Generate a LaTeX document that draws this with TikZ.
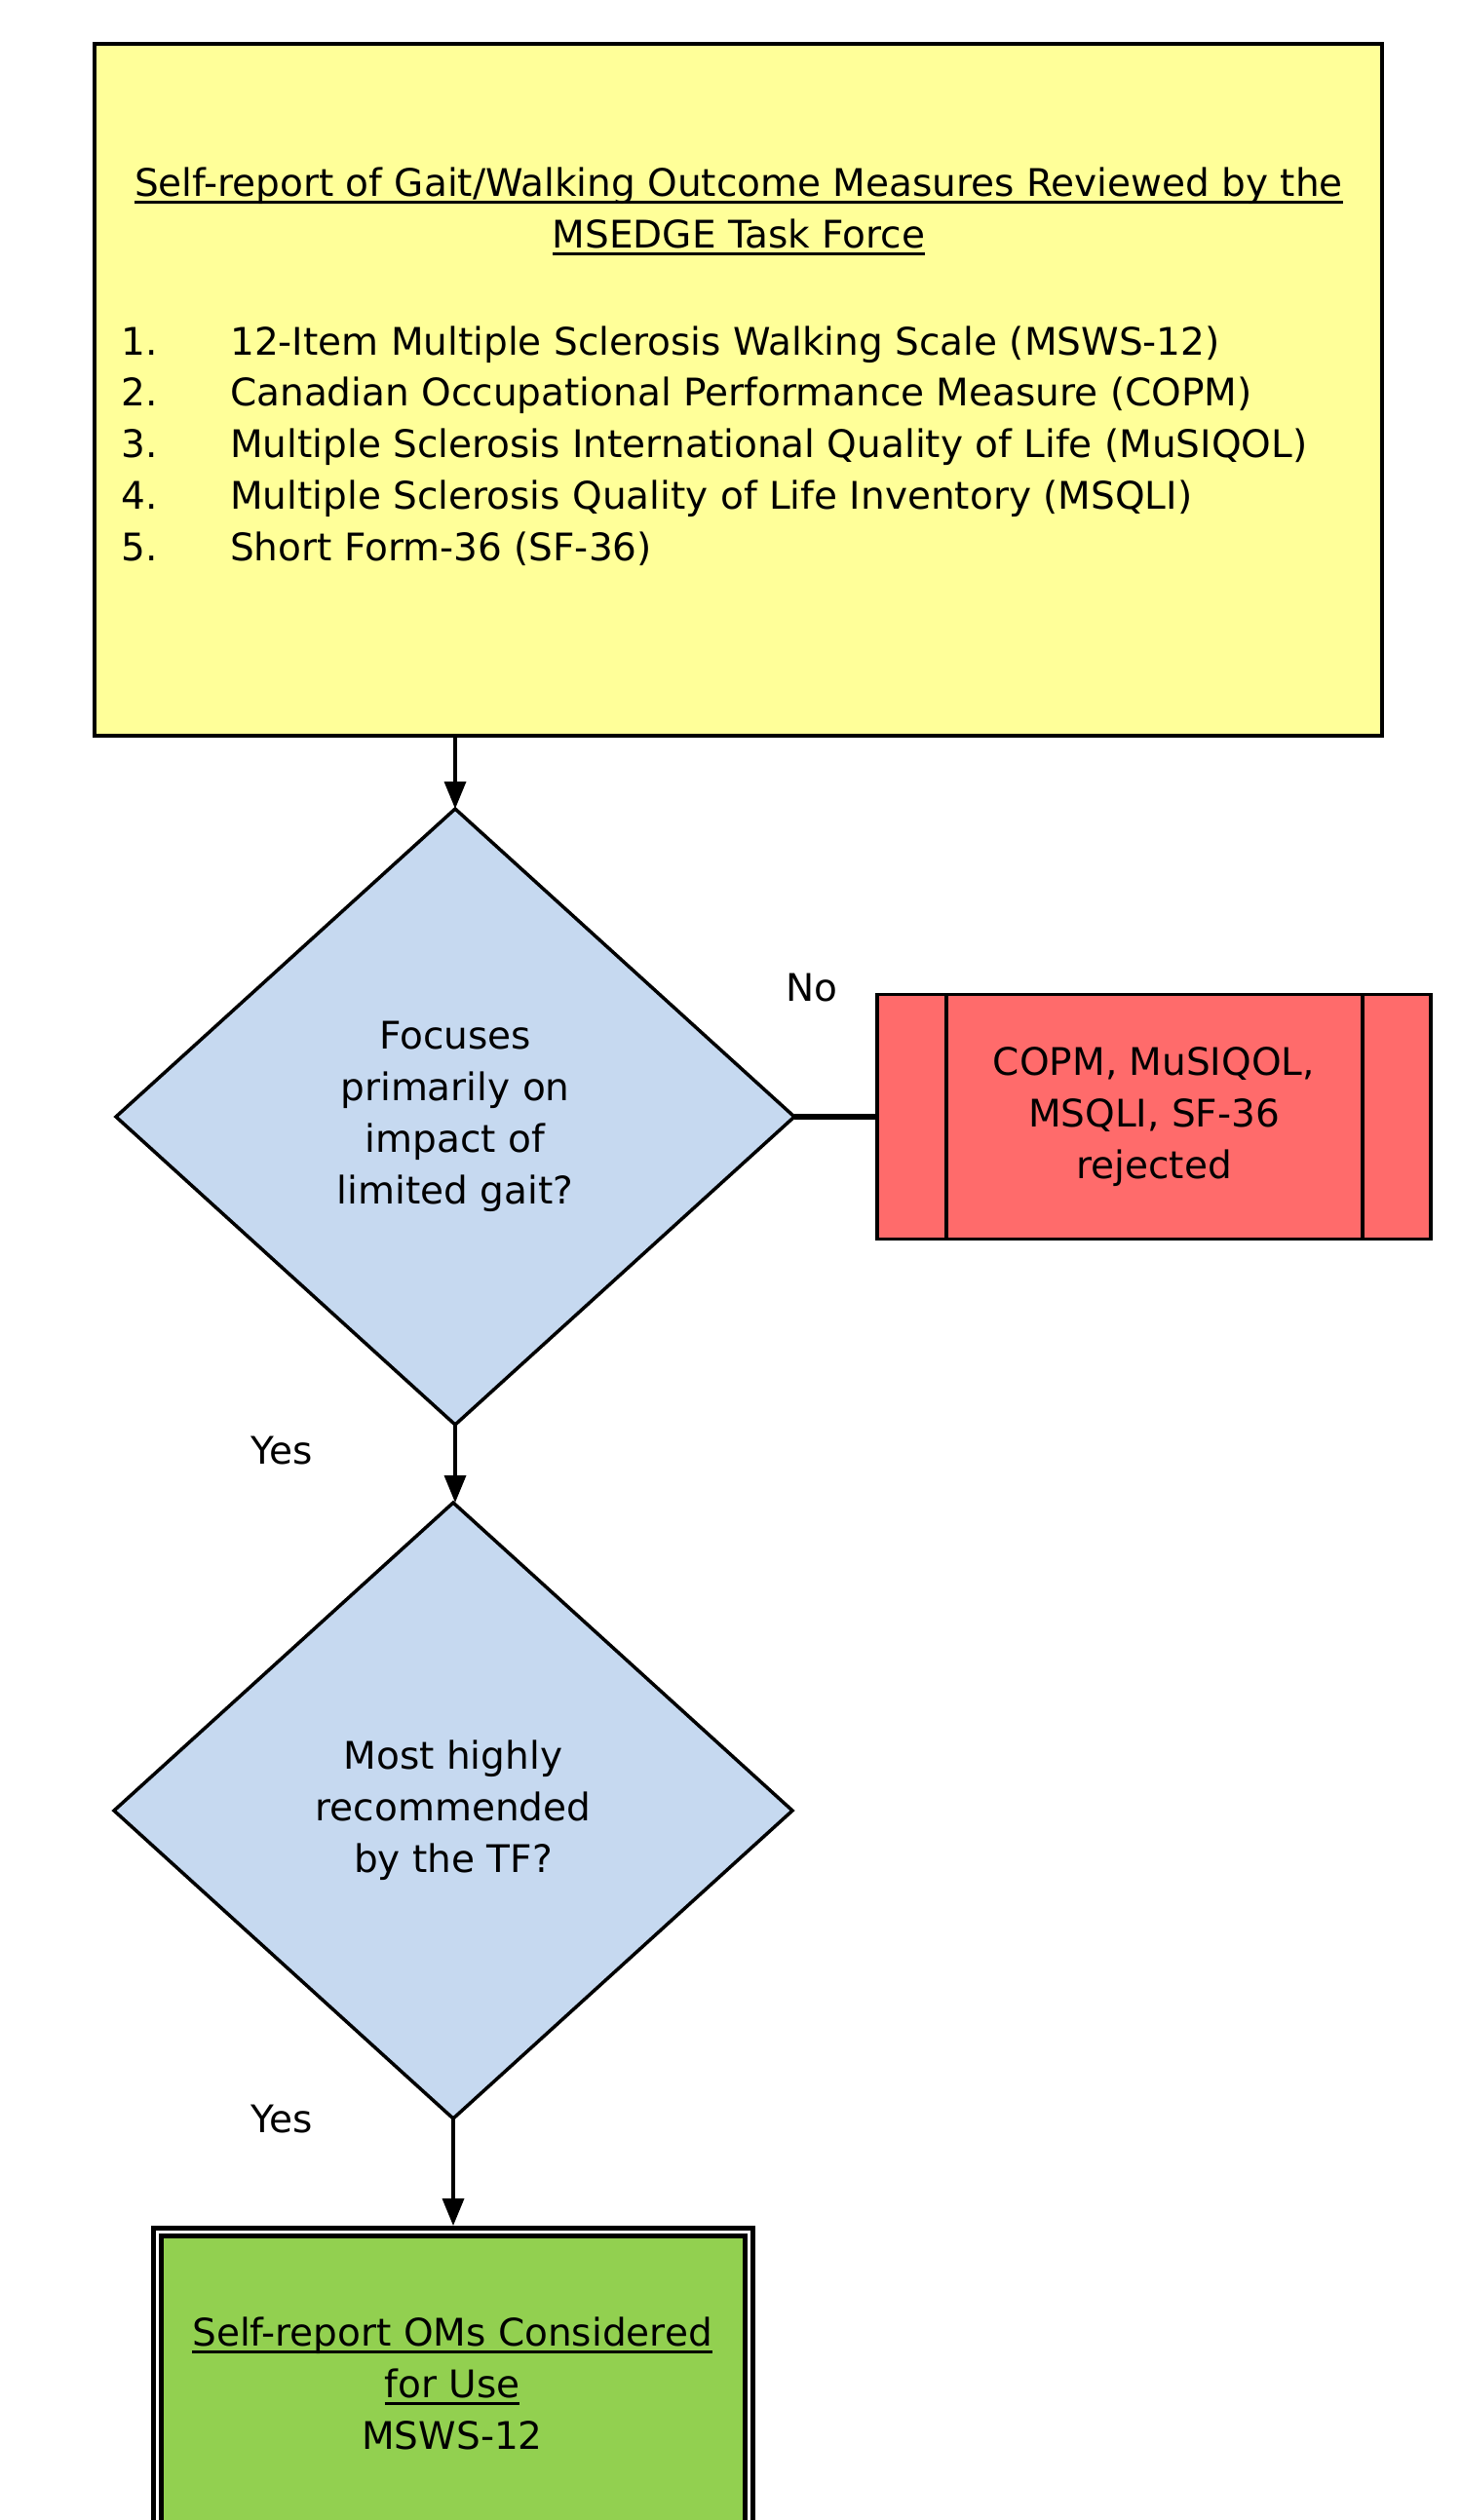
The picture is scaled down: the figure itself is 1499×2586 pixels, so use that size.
\documentclass[tikz,border=0pt]{standalone}
\usepackage{fontspec}
\setmainfont{DejaVu Sans}
\newcommand\myul[1]{\setbox0\hbox{#1}\rlap{\rule[-7pt]{\wd0}{2.5pt}}\box0}
\usetikzlibrary{shapes.geometric,arrows.meta,calc}
\definecolor{boxyellow}{HTML}{FFFF99}
\definecolor{boxblue}{HTML}{C6D9F0}
\definecolor{boxred}{HTML}{FF6B6B}
\definecolor{boxgreen}{HTML}{92D050}
\begin{document}
\begin{tikzpicture}[x=1pt,y=-1pt,
  txt/.style={font=\fontsize{39}{53}\selectfont, inner sep=0, align=center},
  listtxt/.style={font=\fontsize{39}{53}\selectfont, inner sep=0, anchor=base west},
  arr/.style={line width=3.5, -{Triangle[length=28,width=22]}},
  dia/.style={shape=diamond, draw, line width=3.5, fill=boxblue, minimum width=696, minimum height=632, inner sep=0, outer sep=0, align=center, font=\fontsize{39}{53}\selectfont},
]
\path[use as bounding box] (0,0) rectangle (1499,2586);
\fill[white] (0,0) rectangle (1499,2586);

% top box
\node[draw, line width=4, fill=boxyellow, minimum width=1321, minimum height=710, inner sep=0, outer sep=0] (top) at (757.5,400) {};
\node[txt] (title) at (758,217) {\myul{Self-report of Gait/Walking Outcome Measures Reviewed by the}\\\myul{MSEDGE Task Force}};
\node[listtxt] (n1) at (124,364) {1.};
\node[listtxt] (n2) at (124,416) {2.};
\node[listtxt] (n3) at (124,469) {3.};
\node[listtxt] (n4) at (124,522) {4.};
\node[listtxt] (n5) at (124,575) {5.};
\node[listtxt] (l1) at (236,364) {12-Item Multiple Sclerosis Walking Scale (MSWS-12)};
\node[listtxt] (l2) at (236,416) {Canadian Occupational Performance Measure (COPM)};
\node[listtxt] (l3) at (236,469) {Multiple Sclerosis International Quality of Life (MuSIQOL)};
\node[listtxt] (l4) at (236,522) {Multiple Sclerosis Quality of Life Inventory (MSQLI)};
\node[listtxt] (l5) at (236,575) {Short Form-36 (SF-36)};

% diamonds
\node[dia] (d1) at (467,1146) {Focuses\\primarily on\\impact of\\limited gait?};
\node[dia] (d2) at (465,1858) {Most highly\\recommended\\by the TF?};

% red box
\node[draw, line width=3.5, fill=boxred, minimum width=568, minimum height=251, inner sep=0, outer sep=0, align=center, font=\fontsize{39}{53}\selectfont] (red) at (1184,1146) {COPM, MuSIQOL,\\MSQLI, SF-36\\rejected};
\draw[line width=3.5] ([xshift=71]red.north west) -- ([xshift=71]red.south west);
\draw[line width=3.5] ([xshift=-70]red.north east) -- ([xshift=-70]red.south east);

% green box
\node[draw, line width=5, double=white, double distance=3, fill=boxgreen, minimum width=607, minimum height=509, inner sep=0, outer sep=0] (green) at (465,2545) {};
\node[txt] (gtext) at (464,2446) {\myul{Self-report OMs Considered}\\\myul{for Use}\\MSWS-12};

% labels
\node[txt] (no) at (833,1014) {No};
\node[txt] (yes1) at (289,1489) {Yes};
\node[txt] (yes2) at (289,2175) {Yes};

% connectors
\draw[arr] (d1.north |- top.south) -- (d1.north);
\draw[line width=6] (d1.east) -- (red.west);
\draw[arr] (d1.south) -- (d1.south |- d2.north);
\draw[arr, shorten >=6.5] (d2.south) -- (d2.south |- green.north);
\end{tikzpicture}
\end{document}
